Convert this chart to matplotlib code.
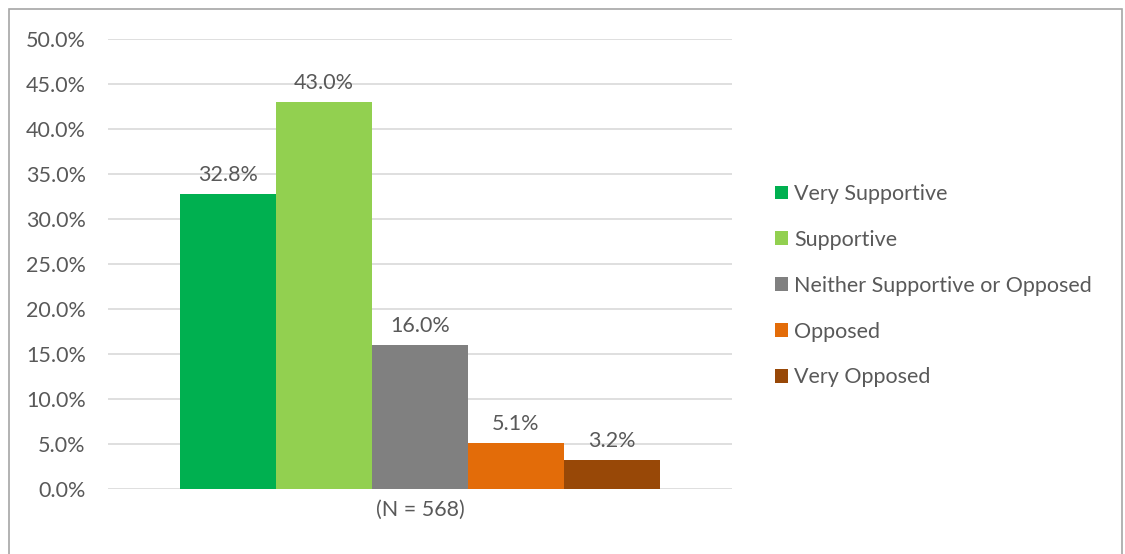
import matplotlib.pyplot as plt
from matplotlib.patches import Rectangle

# data
categories = ["Very Supportive", "Supportive", "Neither Supportive or Opposed",
              "Opposed", "Very Opposed"]
values = [32.8, 43.0, 16.0, 5.1, 3.2]
colors = ["#00B050", "#92D050", "#808080", "#E36C09", "#984807"]
group_label = "(N = 568)"
yticks = [0, 5, 10, 15, 20, 25, 30, 35, 40, 45, 50]

text_color = "#595959"
fs = 15.5
plt.rcParams["font.family"] = ["Lato", "DejaVu Sans"]

fig = plt.figure(figsize=(11.25, 5.54), dpi=100)
ax = fig.add_axes([108 / 1125, 65 / 554, 624 / 1125, 450 / 554])

# outer border of chart area
fig.patches.append(Rectangle((9 / 1125, -0.01), 1113 / 1125, 545 / 554 + 0.01,
                             transform=fig.transFigure, fill=False,
                             edgecolor="#A6A6A6", linewidth=1.2))

positions = [i - 2 for i in range(len(values))]
for pos, val, col, cat in zip(positions, values, colors, categories):
    ax.bar(pos, val, width=1.0, color=col, label=cat, zorder=3)
    ax.text(pos, val + 1.0, f"{val:.1f}%", ha="center", va="bottom",
            fontsize=fs, color=text_color)

ax.set_xlim(-3.25, 3.25)
ax.set_ylim(0, 50)
ax.set_yticks(yticks)
ax.set_yticklabels([f"{t:.1f}%" for t in yticks], fontsize=fs, color=text_color)
ax.set_xticks([0])
ax.set_xticklabels([group_label], fontsize=fs, color=text_color)
ax.tick_params(length=0, pad=8)
ax.tick_params(axis="y", pad=16)
ax.grid(axis="y", color="#D9D9D9", linewidth=1.2, zorder=0)
for s in ax.spines.values():
    s.set_visible(False)

leg = fig.legend(loc="upper left", bbox_to_anchor=(775 / 1125, 1 - 184 / 554),
                 frameon=False, fontsize=fs, handlelength=0.6, handleheight=0.6,
                 handletextpad=0.3, labelspacing=1.2, borderpad=0, borderaxespad=0)
for t in leg.get_texts():
    t.set_color(text_color)

fig.savefig("out.png", dpi=100)
